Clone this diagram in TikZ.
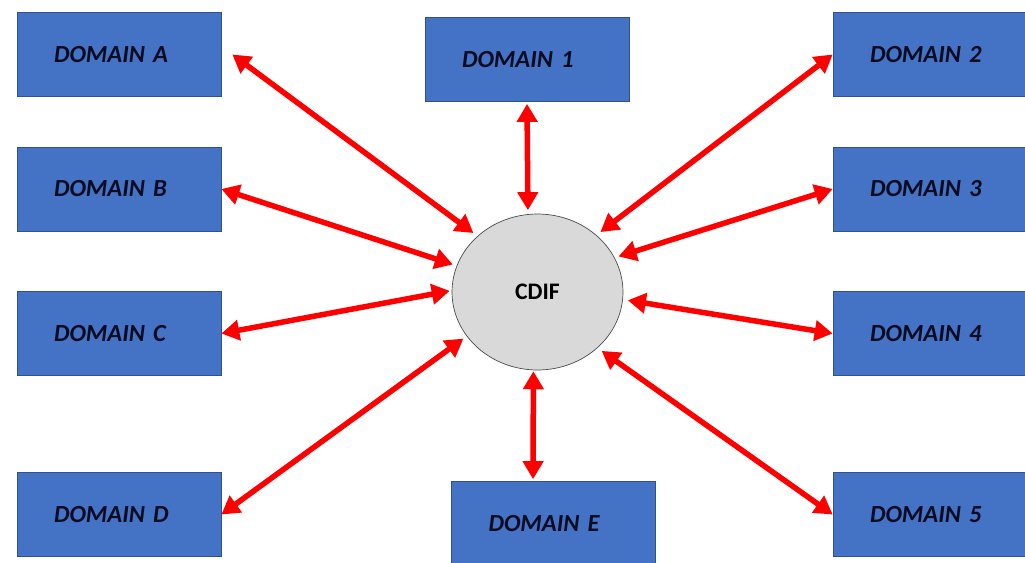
\documentclass[tikz,border=0pt]{standalone}
\usepackage{fontspec}
\setmainfont{Carlito}
\usepackage{xcolor}
\usetikzlibrary{shapes.geometric, arrows.meta}
\definecolor{boxblue}{HTML}{4472C4}
\definecolor{boxedge}{HTML}{2F528F}
\definecolor{hubgray}{HTML}{D9D9D9}
\definecolor{inkblue}{HTML}{0B0B22}
\tikzstyle{domainbox} = [rectangle, draw=boxedge, fill=boxblue, text width=2.6cm,
                         align=left, inner xsep=0.74cm, inner ysep=0pt,
                         minimum height=1.68cm, text=inkblue,
                         font=\fontsize{14}{16}\selectfont\bfseries\itshape]
\tikzstyle{arrow}    = [{Triangle[length=0.36cm,width=0.4cm]}-{Triangle[length=0.36cm,width=0.4cm]},
                         line width=0.11cm, red]
\begin{document}
\begin{tikzpicture}[x=0.02cm, y=-0.02cm]
  \useasboundingbox (0,0) rectangle (1025,562);
  \clip (0,0) rectangle (1025,562);

  % Central hub
  \node[ellipse, draw=black!70, fill=hubgray, minimum width=3.42cm, minimum height=3.12cm,
        font=\fontsize{13.5}{15}\selectfont\bfseries] (cdif) at (537.5,292) {CDIF};

  % Domains — left column
  \node[domainbox] (domA) at (119,54.5)  {DOMAIN A};
  \node[domainbox] (domB) at (119,189)   {DOMAIN B};
  \node[domainbox] (domC) at (119,333.5) {DOMAIN C};
  \node[domainbox] (domD) at (119,514.5) {DOMAIN D};

  % Domains — top and bottom
  \node[domainbox] (dom1) at (527,59.5)   {DOMAIN 1};
  \node[domainbox] (domE) at (553.5,523.5) {DOMAIN E};

  % Domains — right column
  \node[domainbox] (dom2) at (935,54.5)  {DOMAIN 2};
  \node[domainbox] (dom3) at (935,189)   {DOMAIN 3};
  \node[domainbox] (dom4) at (935,333.5) {DOMAIN 4};
  \node[domainbox] (dom5) at (935,514.5) {DOMAIN 5};

  % Arrows — left
  \draw[arrow, shorten >=0.1cm] ([xshift=0.22cm]domA.east) -- (cdif.137);
  \draw[arrow, shorten >=0.08cm] (domB.east) -- (cdif.162);
  \draw[arrow, shorten >=0.04cm] (domC.east) -- (cdif.179);
  \draw[arrow, shorten >=0.08cm] (domD.east) -- (cdif.212);

  % Arrows — top and bottom
  \draw[arrow, shorten <=0.04cm, shorten >=0.08cm] (dom1.south) -- (cdif.97);
  \draw[arrow, shorten <=0.04cm, shorten >=0.02cm] ([xshift=-0.41cm]domE.north) -- (cdif.267);

  % Arrows — right
  \draw[arrow, shorten >=0.1cm] (dom2.west) -- (cdif.44);
  \draw[arrow, shorten >=0.08cm] (dom3.west) -- (cdif.24);
  \draw[arrow, shorten >=0.1cm] (dom4.west) -- (cdif.355);
  \draw[arrow, shorten >=0.1cm] (dom5.west) -- (cdif.317);
\end{tikzpicture}
\end{document}
